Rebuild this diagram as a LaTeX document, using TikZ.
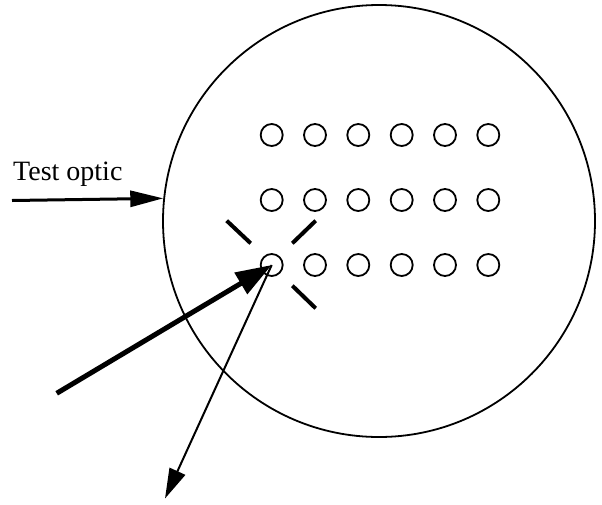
\documentclass[tikz,border=0pt]{standalone}
\usepackage{fontspec}
\setmainfont{Liberation Serif}
\usetikzlibrary{arrows.meta}
\begin{document}
\begin{tikzpicture}[x=1pt,y=-1pt,
  hole/.style={circle,draw,line width=1.8pt,minimum size=22pt,inner sep=0pt},
  optic/.style={circle,draw,line width=1.8pt,minimum size=432pt,inner sep=0pt},
  marker/.style={line width=4pt},
  bigarrow/.style={line width=5pt,-{Triangle[length=36pt,width=24pt]}},
  feedarrow/.style={line width=3pt,-{Triangle[length=33pt,width=16pt]}},
  outarrow/.style={line width=2pt,-{Triangle[length=30pt,width=17pt]}},
  lbl/.style={font=\fontsize{28}{32}\selectfont,inner sep=0pt,anchor=base west}]
\useasboundingbox (0,0) rectangle (602,504);

% test optic outline
\node[optic] (lens) at (379,221) {};

% grid of holes
\foreach \r/\y in {1/135,2/200,3/265}{
  \foreach \c/\x in {1/271.7,2/315,3/358.3,4/401.7,5/445,6/488.3}{
    \node[hole] (h\r\c) at (\x,\y) {};
  }
}

% cross-hair marks around the selected hole
\draw[marker] (226.7,220.7) -- (250.7,243.3);
\draw[marker] (315.7,220.7) -- (292.3,243.3);
\draw[marker] (292.3,285.7) -- (315.7,308.3);

% label and pointer
\node[lbl] (label) at (13,180.5) {Test optic};
\coordinate (feed) at (12,200.5);
\draw[feedarrow] (feed) -- (lens.174.4);

% incoming and outgoing rays
\coordinate (src) at (56.7,393.3);
\coordinate (dst) at (165,498.5);
\draw[bigarrow] (src) -- (h31.center);
\draw[outarrow] (h31.center) -- (dst);
\end{tikzpicture}
\end{document}
